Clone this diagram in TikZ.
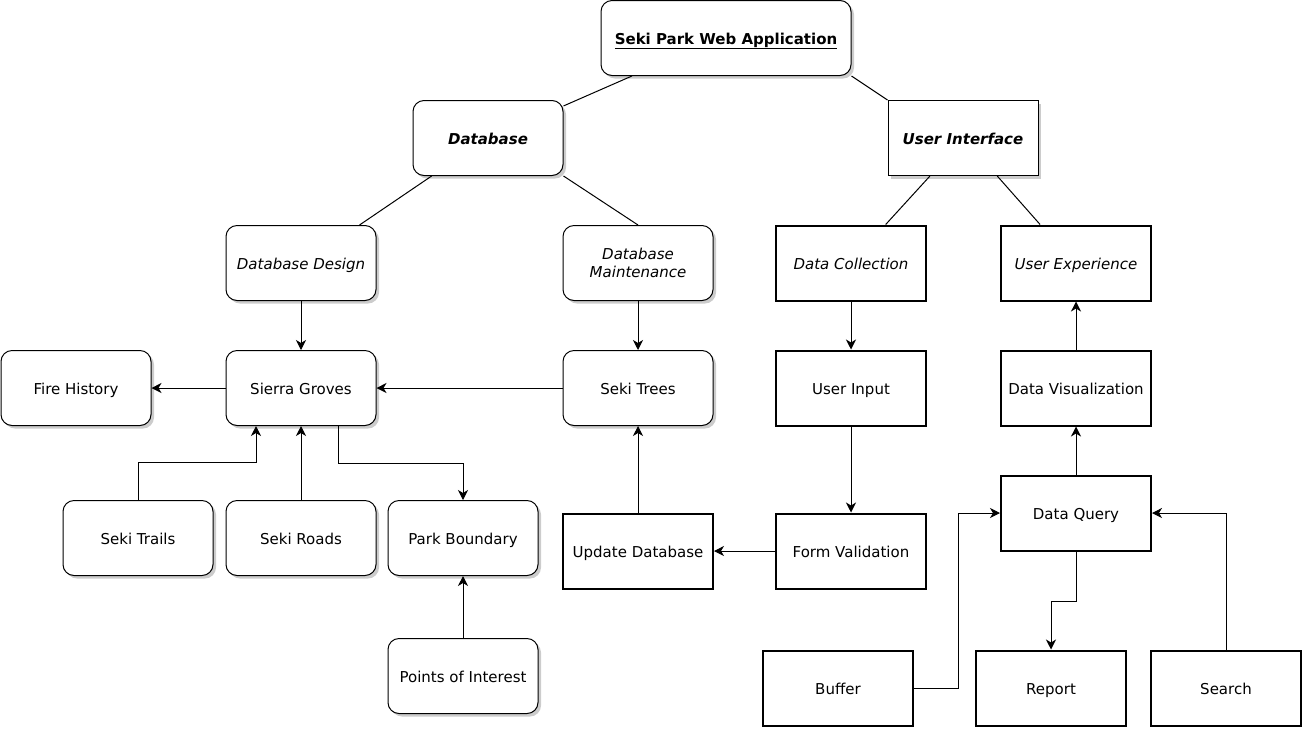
\documentclass[tikz,border=0pt]{standalone}
\usepackage{fontspec}
\setmainfont{DejaVu Sans}
\usetikzlibrary{arrows.meta,shadows}

\tikzset{
  rbox/.style={draw,fill=white,rounded corners=11pt,minimum width=150pt,
    minimum height=75pt,align=center,rectangle,text height=12.5pt,text depth=0.5pt,
    drop shadow={shadow xshift=3pt,shadow yshift=-3pt,fill=black!40,opacity=0.5}},
  uibox/.style={draw,fill=white,minimum width=150pt,minimum height=75pt,
    align=center,rectangle,text height=12.5pt,text depth=0.5pt,
    drop shadow={shadow xshift=3pt,shadow yshift=-3pt,fill=black!40,opacity=0.5}},
  tbox/.style={draw,fill=white,line width=2pt,minimum width=150pt,
    minimum height=75pt,align=center,rectangle,text height=12.5pt,text depth=0.5pt},
  arr/.style={-{Stealth[length=10pt,width=10pt,inset=3pt]}},
}

\begin{document}
\begin{tikzpicture}[x=1pt,y=-1pt,font=\fontsize{15}{18}\selectfont,line width=1pt]
\useasboundingbox (0,0) rectangle (1309,732);

\node[rbox,minimum width=250pt](app) at (726,38) {\textbf{\underline{Seki Park Web Application}}};
\node[rbox](db) at (488,138) {\textbf{\textit{Database}}};
\node[uibox](ui) at (963,138) {\textbf{\textit{User Interface}}};

\node[rbox](design) at (301,263) {\textit{Database Design}};
\node[rbox,text height=,text depth=](maint) at (638,263) {\textit{Database}\\\textit{Maintenance}};
\node[tbox](collect) at (851,263) {\textit{Data Collection}};
\node[tbox](uxp) at (1076,263) {\textit{User Experience}};

\node[rbox](fire) at (76,388) {Fire History};
\node[rbox](groves) at (301,388) {Sierra Groves};
\node[rbox](trees) at (638,388) {Seki Trees};
\node[tbox](input) at (851,388) {User Input};
\node[tbox](visual) at (1076,388) {Data Visualization};

\node[rbox](trails) at (138,538) {Seki Trails};
\node[rbox](roads) at (301,538) {Seki Roads};
\node[rbox](boundary) at (463,538) {Park Boundary};
\node[tbox](update) at (638,551) {Update Database};
\node[tbox](form) at (851,551) {Form Validation};
\node[tbox](query) at (1076,513) {Data Query};

\node[rbox](poi) at (463,676) {Points of Interest};
\node[tbox](buffer) at (838,688) {Buffer};
\node[tbox](report) at (1051,688) {Report};
\node[tbox](search) at (1226,688) {Search};

% tree lines
\draw (app.202) -- (db.23);
\draw (app.south east) -- (ui.north west);
\draw (db.214) -- (design.33);
\draw (db.south east) -- (maint.north);
\draw (ui.229) -- (collect.48);
\draw (ui.312) -- (uxp.133);

% arrows
\draw[arr] (design.south) -- (groves.north);
\draw[arr] (maint.south) -- (trees.north);
\draw[arr] (collect.south) -- (input.north);
\draw[arr] (visual.north) -- (uxp.south);
\draw[arr] (groves.west) -- (fire.east);
\draw[arr] (trees.west) -- (groves.east);
\draw[arr] (input.south) -- (form.north);
\draw[arr] (form.west) -- (update.east);
\draw[arr] (update.north) -- (trees.south);
\draw[arr] (query.north) -- (visual.south);
\draw[arr] (roads.north) -- (groves.south);
\draw[arr] (poi.north) -- (boundary.south);

\draw[arr] (trails.north) -- ++(0,-38) -| ([xshift=-45pt]groves.south);
\draw[arr] ([xshift=37pt]groves.south) -- ++(0,37) -| (boundary.north);
\draw[arr] (buffer.east) -- ++(44,0) |- (query.west);
\draw[arr] (query.south) -- ++(0,50) -| (report.north);
\draw[arr] (search.north) |- (query.east);

\end{tikzpicture}
\end{document}
